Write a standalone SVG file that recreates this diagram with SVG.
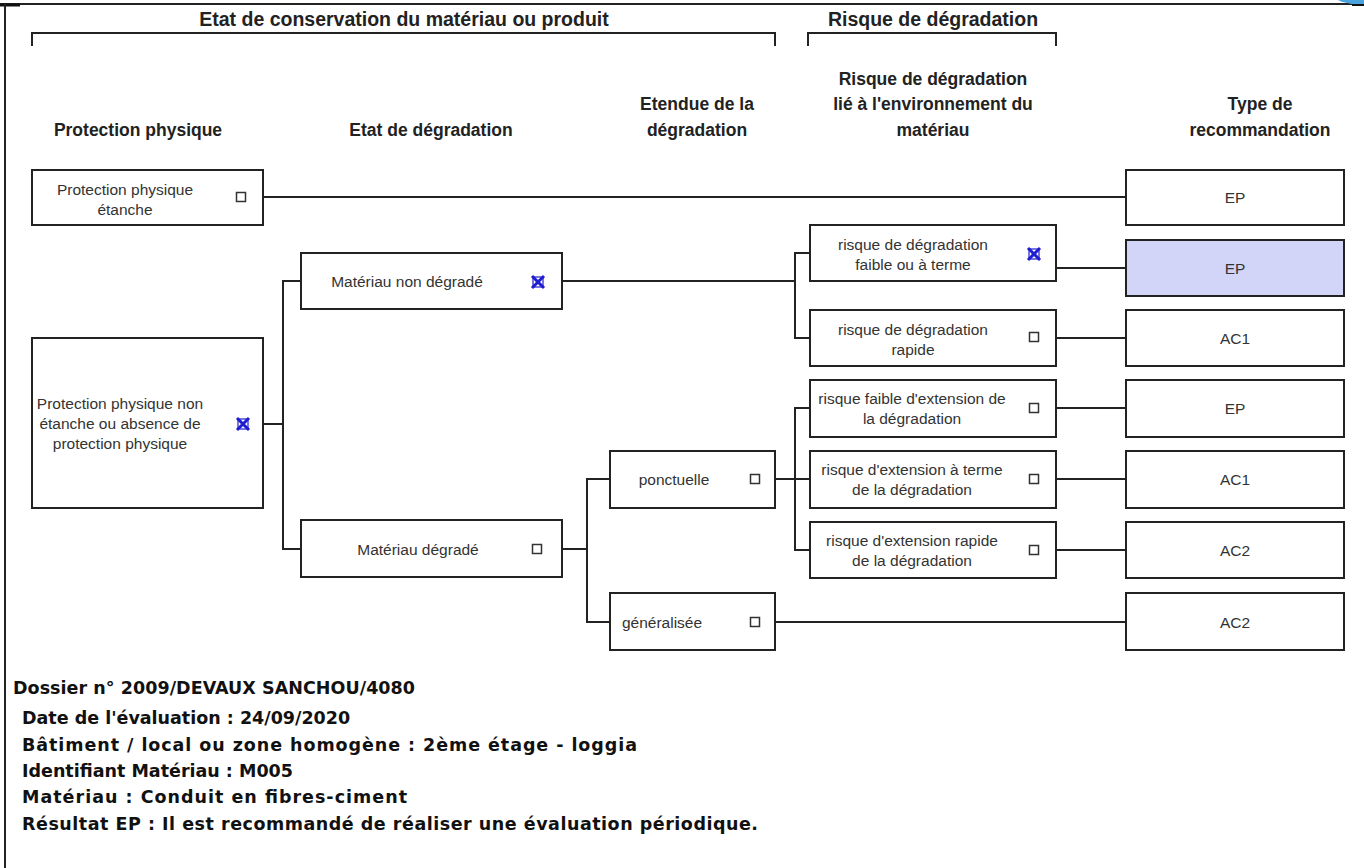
<svg xmlns="http://www.w3.org/2000/svg" width="1364" height="868" viewBox="0 0 1364 868">
<defs>
<style>
.box{fill:#fff;stroke:#222;stroke-width:2}
.sel{fill:#d2d5f8;stroke:#222;stroke-width:2}
.ln{fill:none;stroke:#222;stroke-width:2}
.t{font-family:"Liberation Sans",Arial,sans-serif;font-size:15.5px;fill:#333;text-anchor:middle}
.h{font-family:"Liberation Sans",Arial,sans-serif;font-size:17.5px;font-weight:bold;fill:#222;text-anchor:middle}
.h2{font-family:"Liberation Sans",Arial,sans-serif;font-size:19.5px;font-weight:bold;fill:#222;text-anchor:middle}
.b{font-family:"DejaVu Sans",Verdana,sans-serif;font-size:17.5px;font-weight:bold;fill:#111}
.cb{fill:#fff;stroke:#333;stroke-width:1.5}
.xm{fill:none;stroke:#1e1ed0;stroke-width:3}
</style>
<g id="chk"><rect class="cb" x="-4.5" y="-4.5" width="9" height="9"/></g>
<g id="xchk"><rect x="-5" y="-5" width="10" height="10" fill="none" stroke="#1e1ed0" stroke-width="1.2"/><path class="xm" d="M-6,-6 L6,6 M6,-6 L-6,6"/></g>
</defs>
<rect width="1364" height="868" fill="#fff"/>
<!-- frame -->
<line class="ln" x1="0" y1="4" x2="1364" y2="4"/>
<line x1="0" y1="5" x2="20" y2="5" stroke="#111" stroke-width="3"/>
<line class="ln" x1="5" y1="4" x2="5" y2="868" stroke-width="2.5"/>
<ellipse cx="1365" cy="-4" rx="30" ry="9" fill="#4aa3dd"/>
<line x1="1352" y1="5" x2="1364" y2="5" stroke="#111" stroke-width="2"/>
<!-- headers -->
<g id="headers">
<text class="h2" x="404" y="26">Etat de conservation du matériau ou produit</text>
<path class="ln" d="M32,46 V33 H775 V46"/>
<text class="h2" x="933" y="26">Risque de dégradation</text>
<path class="ln" d="M808,46 V33 H1056 V46"/>
<text class="h" x="138" y="136">Protection physique</text>
<text class="h" x="431" y="136">Etat de dégradation</text>
<text class="h" x="697" y="110">Etendue de la</text>
<text class="h" x="697" y="136">dégradation</text>
<text class="h" x="933" y="85">Risque de dégradation</text>
<text class="h" x="933" y="110">lié à l'environnement du</text>
<text class="h" x="933" y="136">matériau</text>
<text class="h" x="1260" y="110">Type de</text>
<text class="h" x="1260" y="136">recommandation</text>
</g>
<!-- connectors -->
<g id="connectors">
<path class="ln" d="M263,197 H1126"/>
<path class="ln" d="M263,424 H283 M301,281 H283 V549 H301"/>
<path class="ln" d="M562,281 H795 M810,253 H795 V338 H810"/>
<path class="ln" d="M1056,268 H1126"/>
<path class="ln" d="M562,549 H587 M610,479 H587 V622 H610"/>
<path class="ln" d="M775,479 H810 M810,408 H795 V550 H810"/>
<path class="ln" d="M775,622 H1126"/>
<path class="ln" d="M1056,338 H1126 M1056,408 H1126 M1056,479 H1126 M1056,550 H1126"/>
</g>
<!-- nodes -->
<g id="pp-etanche"><rect class="box" x="32" y="170" width="231" height="55"/>
<text class="t" x="125" y="195">Protection physique</text><text class="t" x="125" y="215">étanche</text>
<use href="#chk" x="241" y="197"/></g>
<g id="pp-non-etanche"><rect class="box" x="32" y="338" width="231" height="170"/>
<text class="t" x="120" y="409">Protection physique non</text><text class="t" x="120" y="429">étanche ou absence de</text><text class="t" x="120" y="449">protection physique</text>
<use href="#xchk" x="243" y="424"/></g>
<g id="mat-non-degrade"><rect class="box" x="301" y="253" width="261" height="56"/>
<text class="t" x="407" y="287">Matériau non dégradé</text>
<use href="#xchk" x="538" y="282"/></g>
<g id="mat-degrade"><rect class="box" x="301" y="520" width="261" height="57"/>
<text class="t" x="418" y="555">Matériau dégradé</text>
<use href="#chk" x="537" y="549"/></g>
<g id="ponctuelle"><rect class="box" x="610" y="451" width="165" height="57"/>
<text class="t" x="674" y="485">ponctuelle</text>
<use href="#chk" x="755" y="479"/></g>
<g id="generalisee"><rect class="box" x="610" y="593" width="165" height="57"/>
<text class="t" x="662" y="628">généralisée</text>
<use href="#chk" x="755" y="622"/></g>
<g id="rd-faible"><rect class="box" x="810" y="225" width="246" height="56"/>
<text class="t" x="913" y="250">risque de dégradation</text><text class="t" x="913" y="270">faible ou à terme</text>
<use href="#xchk" x="1034" y="254"/></g>
<g id="rd-rapide"><rect class="box" x="810" y="310" width="246" height="56"/>
<text class="t" x="913" y="335">risque de dégradation</text><text class="t" x="913" y="355">rapide</text>
<use href="#chk" x="1034" y="337"/></g>
<g id="re-faible"><rect class="box" x="810" y="380" width="246" height="57"/>
<text class="t" x="912" y="404">risque faible d'extension de</text><text class="t" x="912" y="424">la dégradation</text>
<use href="#chk" x="1034" y="408"/></g>
<g id="re-terme"><rect class="box" x="810" y="451" width="246" height="57"/>
<text class="t" x="912" y="475">risque d'extension à terme</text><text class="t" x="912" y="495">de la dégradation</text>
<use href="#chk" x="1034" y="479"/></g>
<g id="re-rapide"><rect class="box" x="810" y="522" width="246" height="56"/>
<text class="t" x="912" y="546">risque d'extension rapide</text><text class="t" x="912" y="566">de la dégradation</text>
<use href="#chk" x="1034" y="550"/></g>
<g id="r1"><rect class="box" x="1126" y="170" width="218" height="55"/><text class="t" x="1235" y="203">EP</text></g>
<g id="r2"><rect class="sel" x="1126" y="240" width="218" height="56"/><text class="t" x="1235" y="274" fill="#444">EP</text></g>
<g id="r3"><rect class="box" x="1126" y="310" width="218" height="56"/><text class="t" x="1235" y="344">AC1</text></g>
<g id="r4"><rect class="box" x="1126" y="380" width="218" height="57"/><text class="t" x="1235" y="414">EP</text></g>
<g id="r5"><rect class="box" x="1126" y="451" width="218" height="57"/><text class="t" x="1235" y="485">AC1</text></g>
<g id="r6"><rect class="box" x="1126" y="522" width="218" height="56"/><text class="t" x="1235" y="556">AC2</text></g>
<g id="r7"><rect class="box" x="1126" y="593" width="218" height="57"/><text class="t" x="1235" y="628">AC2</text></g>
<!-- footer -->
<g id="footer">
<text class="b" x="13" y="694" textLength="402" lengthAdjust="spacing">Dossier n° 2009/DEVAUX SANCHOU/4080</text>
<text class="b" x="22" y="724">Date de l'évaluation : 24/09/2020</text>
<text class="b" x="22" y="751" textLength="615" lengthAdjust="spacing">Bâtiment / local ou zone homogène : 2ème étage - loggia</text>
<text class="b" x="22" y="777">Identifiant Matériau : M005</text>
<text class="b" x="22" y="803" textLength="385" lengthAdjust="spacing">Matériau : Conduit en fibres-ciment</text>
<text class="b" x="22" y="830" textLength="736" lengthAdjust="spacing">Résultat EP : Il est recommandé de réaliser une évaluation périodique.</text>
</g>
</svg>
